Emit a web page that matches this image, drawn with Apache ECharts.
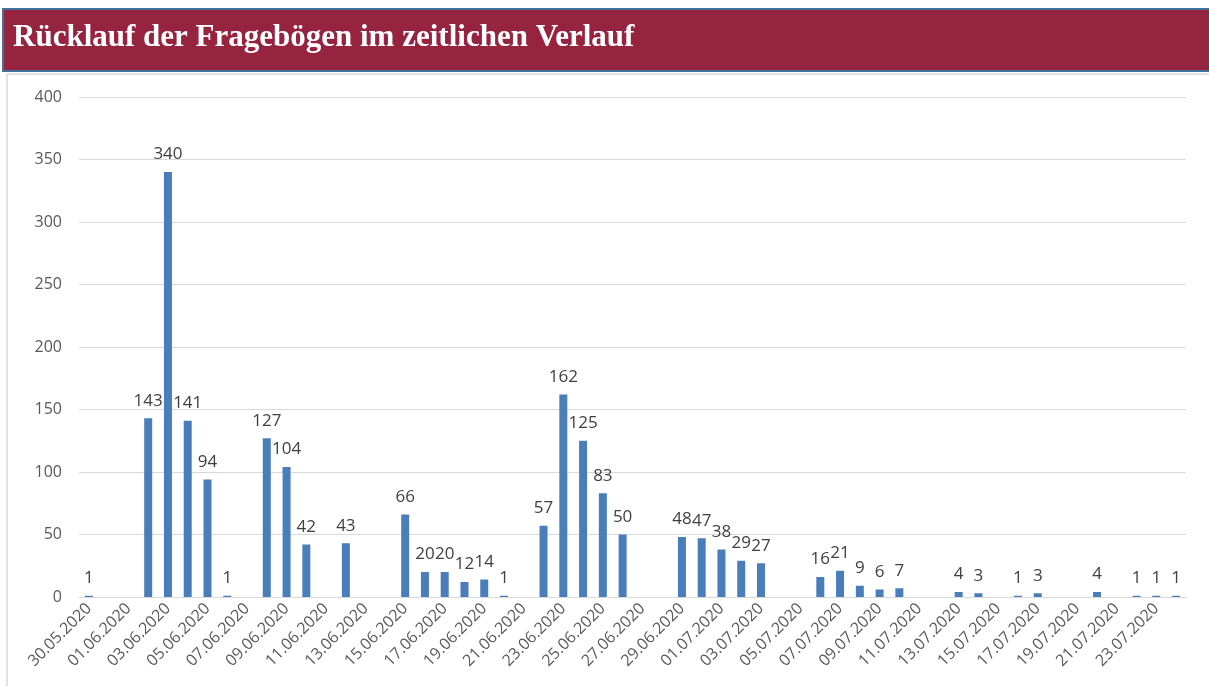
<!DOCTYPE html>
<html>
<head>
<meta charset="utf-8">
<script src="https://cdn.jsdelivr.net/npm/echarts@6/dist/echarts.min.js"></script>
<style>
  html, body { margin: 0; padding: 0; background: #fff; }
  #chart { width: 1209px; height: 686px; }
</style>
</head>
<body>
<div id="chart"></div>
<script>
const titleText = 'Rücklauf der Fragebögen im zeitlichen Verlauf'

// one category per day, 30.05.2020 – 24.07.2020
const days = [
  '30.05.2020', '31.05.2020',
  '01.06.2020', '02.06.2020', '03.06.2020', '04.06.2020', '05.06.2020', '06.06.2020', '07.06.2020',
  '08.06.2020', '09.06.2020', '10.06.2020', '11.06.2020', '12.06.2020', '13.06.2020', '14.06.2020',
  '15.06.2020', '16.06.2020', '17.06.2020', '18.06.2020', '19.06.2020', '20.06.2020', '21.06.2020',
  '22.06.2020', '23.06.2020', '24.06.2020', '25.06.2020', '26.06.2020', '27.06.2020', '28.06.2020',
  '29.06.2020', '30.06.2020',
  '01.07.2020', '02.07.2020', '03.07.2020', '04.07.2020', '05.07.2020', '06.07.2020', '07.07.2020',
  '08.07.2020', '09.07.2020', '10.07.2020', '11.07.2020', '12.07.2020', '13.07.2020', '14.07.2020',
  '15.07.2020', '16.07.2020', '17.07.2020', '18.07.2020', '19.07.2020', '20.07.2020', '21.07.2020',
  '22.07.2020', '23.07.2020', '24.07.2020'
]

// returned questionnaires per day (null = no returns that day)
const returns = [
  1, null,
  null, 143, 340, 141, 94, 1, null,
  127, 104, 42, null, 43, null, null,
  66, 20, 20, 12, 14, 1, null,
  57, 162, 125, 83, 50, null, null,
  48, 47,
  38, 29, 27, null, null, 16, 21,
  9, 6, 7, null, null, 4, 3,
  null, 1, 3, null, null, 4, null,
  1, 1, 1
]

const yTicks = { min: 0, max: 400, interval: 50 }

const chart = echarts.init(document.getElementById('chart'))

chart.setOption({
  backgroundColor: '#fff',
  animation: false,
  title: {
    text: titleText,
    left: 8,
    top: 17,
    textStyle: {
      color: '#fff',
      fontFamily: 'Liberation Serif',
      fontWeight: 'bold',
      fontSize: 31,
    },
  },
  graphic: [
    {
      type: 'rect',
      z: -1,
      shape: { x: 7, y: 74, width: 1210, height: 620 },
      style: { fill: '#fff', stroke: '#d9d9d9', lineWidth: 1.5 },
    },
    {
      type: 'rect',
      z: -1,
      shape: { x: 3, y: 9, width: 1212, height: 62 },
      style: { fill: '#962340', stroke: '#41719c', lineWidth: 2 },
    },
  ],
  grid: { left: 79, right: 23, top: 97, bottom: 89 },
  xAxis: {
    type: 'category',
    data: days,
    boundaryGap: true,
    axisLine: { lineStyle: { color: '#d9d9d9', width: 1 } },
    axisTick: { interval: 1, length: 5, lineStyle: { color: '#bfbfbf' } },
    axisLabel: {
      interval: 1,
      rotate: 45,
      margin: 9,
      color: '#595959',
      fontFamily: 'Open Sans',
      fontSize: 16,
    },
  },
  yAxis: {
    type: 'value',
    min: yTicks.min,
    max: yTicks.max,
    interval: yTicks.interval,
    axisLine: { show: false },
    axisTick: { show: false },
    splitLine: { lineStyle: { color: '#d9d9d9', width: 1 } },
    axisLabel: {
      margin: 17,
      color: '#595959',
      fontFamily: 'Open Sans',
      fontSize: 16,
    },
  },
  series: [
    {
      type: 'bar',
      data: returns,
      barWidth: 8,
      itemStyle: { color: '#4a7ebb' },
      label: {
        show: true,
        position: 'top',
        distance: 9,
        color: '#404040',
        fontFamily: 'Open Sans',
        fontSize: 17,
      },
    },
  ],
})
</script>
</body>
</html>
